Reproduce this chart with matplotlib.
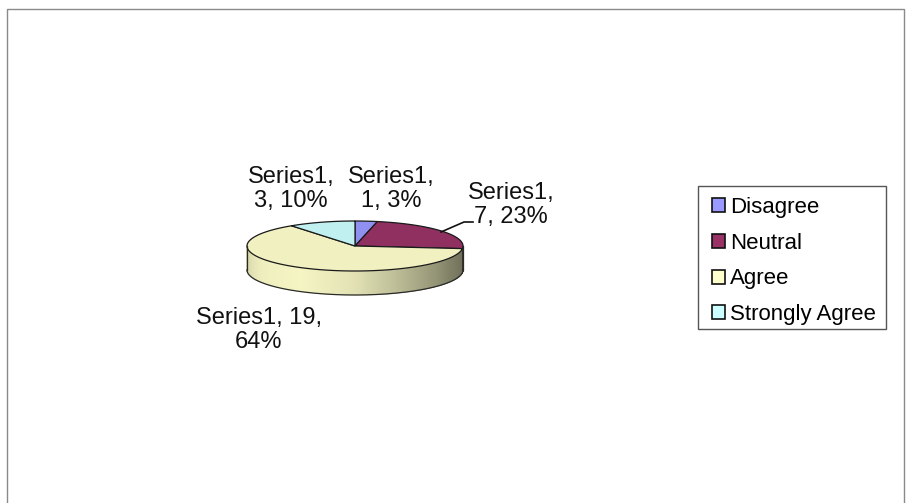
import numpy as np
import matplotlib
matplotlib.use("Agg")
import matplotlib.pyplot as plt
from matplotlib.patches import Polygon, Patch, Rectangle
from matplotlib.collections import PolyCollection
from matplotlib.colors import to_rgb

plt.rcParams['font.family'] = ['Liberation Sans', 'DejaVu Sans']

# ---- data ----
series_name = "Series1"
categories = ["Disagree", "Neutral", "Agree", "Strongly Agree"]
counts = [1, 7, 19, 3]
percent_text = ["3%", "23%", "64%", "10%"]
legend_colors = ["#9999ff", "#993366", "#ffffcc", "#ccffff"]

# ---- figure in pixel-like coordinates ----
W, H = 907, 503
fig = plt.figure(figsize=(W / 100, H / 100), dpi=100)
ax = fig.add_axes([0, 0, 1, 1])
ax.set_xlim(0, W)
ax.set_ylim(H, 0)
ax.axis("off")

# chart area border
ax.add_patch(Rectangle((6.5, 8.5), 897, 500, fill=False, ec="#8a8a8a", lw=1.0))

# ---- 3D pie geometry ----
cx, cy, rx, ry, depth = 355, 246, 108, 25, 24
fractions = np.array(counts, dtype=float) / sum(counts)
bounds = np.concatenate([[0], np.cumsum(fractions)]) * 360.0  # clockwise from top


def top_pt(theta_deg):
    t = np.radians(theta_deg)
    return cx + rx * np.sin(t), cy - ry * np.cos(t)


# lighting of the outer wall: dark on the right, brightest front-left
_shade_ang = [90, 120, 150, 180, 210, 240, 270]
_shade_val = [0.42, 0.53, 0.72, 0.92, 1.0, 0.97, 0.86]


def shade(theta_deg):
    return np.interp(theta_deg, _shade_ang, _shade_val)


def darken(c, f):
    r, g, b = to_rgb(c)
    return (r * f, g * f, b * f)


top_colors = [darken(c, 0.94) for c in legend_colors]

# outer wall (front half only, 90..270 degrees)
strips, strip_cols = [], []
step = 0.5
for i, col in enumerate(legend_colors):
    a0, a1 = max(bounds[i], 90.0), min(bounds[i + 1], 270.0)
    if a1 <= a0:
        continue
    angs = np.arange(a0, a1, step)
    for a in angs:
        b = min(a + step, a1)
        x0, y0 = top_pt(a)
        x1, y1 = top_pt(b)
        strips.append([(x0, y0), (x1, y1), (x1, y1 + depth), (x0, y0 + depth)])
        strip_cols.append(darken(col, 0.96 * shade((a + b) / 2)))
ax.add_collection(PolyCollection(strips, facecolors=strip_cols,
                                 edgecolors=strip_cols, linewidths=0.6))

# wall outline
arc = np.linspace(90, 270, 200)
bx, by = zip(*[top_pt(a) for a in arc])
by = np.array(by) + depth
ax.plot(bx, by, color="#2a2a2a", lw=0.9)
for a in (90, 270):
    x, y = top_pt(a)
    ax.plot([x, x], [y, y + depth], color="#2a2a2a", lw=0.9)
for i in range(len(counts)):
    a = bounds[i]
    if 90 < a < 270:
        x, y = top_pt(a)
        ax.plot([x, x], [y, y + depth], color="#2a2a2a", lw=0.6)

# top faces
for i, col in enumerate(top_colors):
    angs = np.linspace(bounds[i], bounds[i + 1], 120)
    pts = [(cx, cy)] + [top_pt(a) for a in angs]
    ax.add_patch(Polygon(pts, closed=True, fc=col, ec="#1a1a1a", lw=0.9,
                         joinstyle="round"))

# ---- data labels ----
lbl_kw = dict(fontsize=17, ha="center", va="center", multialignment="center",
              color="#111111", linespacing=1.06)
ax.text(391, 189, f"{series_name},\n{counts[0]}, {percent_text[0]}", **lbl_kw)
ax.text(511, 205, f"{series_name},\n{counts[1]}, {percent_text[1]}", **lbl_kw)
ax.text(259, 330, f"{series_name}, {counts[2]},\n{percent_text[2]}", **lbl_kw)
ax.text(291, 189, f"{series_name},\n{counts[3]}, {percent_text[3]}", **lbl_kw)
ax.plot([441, 464, 473], [232, 222, 222], color="#111111", lw=1.2)

# ---- legend ----
ax.add_patch(Rectangle((697.5, 185.5), 188, 143, fill=False, ec="#555555", lw=1.0))
handles = [Patch(fc=c, ec="#111111", lw=1.2) for c in legend_colors]
leg = ax.legend(handles, categories, loc="upper left",
                bbox_to_anchor=(705 / W, 1 - 190 / H), bbox_transform=fig.transFigure,
                fontsize=16, frameon=False,
                handlelength=0.6, handleheight=0.6, handletextpad=0.2,
                labelspacing=0.66, borderpad=0.32, borderaxespad=0)

fig.savefig("out.png", dpi=100, facecolor="white")
